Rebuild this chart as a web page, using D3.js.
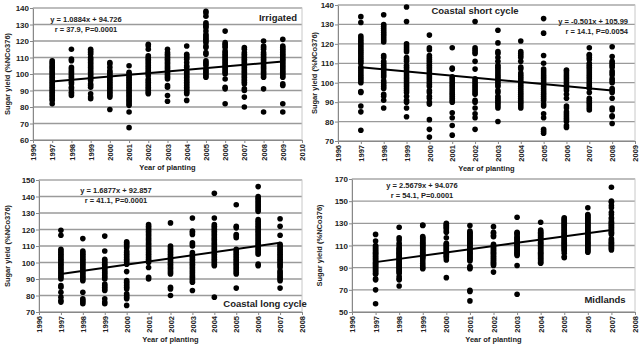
<!DOCTYPE html>
<html>
<head>
<meta charset="utf-8">
<script src="https://cdn.jsdelivr.net/npm/d3@7"></script>
<style>
  body { margin: 0; background: #fff; }
  text { font-family: "Liberation Sans", Arial, sans-serif; font-weight: bold; fill: #222; }
</style>
</head>
<body>
<div id="chart"></div>
<script>
// ---- data ----
var irrigatedYears = [1997, 1998, 1999, 2000, 2001, 2002, 2003, 2004, 2005, 2006, 2007, 2008, 2009];
var irrigatedYield = [
  [82, 84, 85, 86, 87, 88, 89, 90, 91, 92, 93, 94, 95, 96, 97, 98, 99, 100, 101, 102, 103, 104, 105, 106, 107, 108],
  [115, 109, 108, 104, 103, 102, 101, 100, 99, 98, 97, 96, 95, 94, 92, 91, 89, 88, 87],
  [115, 114, 113, 112, 110, 109, 108, 107, 106, 105, 104, 103, 102, 101, 100, 99, 98, 97, 96, 94, 93, 92, 88, 86, 85],
  [107, 106, 104, 102, 101, 100, 99, 98, 97, 96, 95, 94, 93, 92, 91, 90, 89, 88, 87, 86, 78.5],
  [105, 101, 100, 99, 98, 97, 96, 95, 94, 93, 92, 91, 90, 89, 88, 87, 86, 85, 84, 83, 82, 81, 77, 67.5],
  [118, 117, 115, 111, 110, 109, 108, 107, 106, 105, 104, 103, 102, 101, 100, 99, 97, 96, 95, 94, 93, 92, 91, 90, 89, 88],
  [115, 113, 112, 111, 110, 109, 108, 107, 106, 105, 104, 103, 102, 101, 100, 99, 98, 97, 93, 92, 87, 83.5],
  [117, 112, 111, 110, 109, 107, 105, 104, 102, 101, 100, 99, 98, 97, 96, 95, 94, 93, 92, 91, 90, 89, 88, 84],
  [138, 137, 135, 131, 130, 129, 128, 126, 124, 123, 122, 121, 120, 119, 117, 116, 113, 112, 108, 107, 106, 105, 103, 102, 101, 100, 99, 98],
  [126, 119, 118, 117, 116, 114, 113, 112, 111, 110, 109, 108, 107, 106, 105, 104, 103, 102, 101, 100, 97, 92, 91, 82],
  [116, 115, 113, 112, 111, 110, 109, 108, 107, 106, 105, 104, 103, 102, 101, 100, 99, 98, 97, 96, 95, 94, 91, 90, 86, 80],
  [120, 117, 116, 115, 113, 112, 111, 110, 109, 108, 107, 106, 105, 104, 103, 102, 101, 100, 99, 98, 91, 77],
  [121, 117, 116, 115, 114, 113, 112, 111, 110, 109, 108, 107, 106, 105, 104, 103, 102, 101, 100, 99, 98, 94, 93, 82, 77]
];
var irrigatedTrend = [95.5, 107.6];

var shortYears = [1997, 1998, 1999, 2000, 2001, 2002, 2003, 2004, 2005, 2006, 2007, 2008];
var shortYield = [
  [134, 131, 124, 123, 122, 121, 120, 119, 118, 117, 116, 115, 114, 113, 112, 111, 110, 108, 107, 106, 105, 104, 103, 102, 101, 100, 95.5, 95, 88, 85, 75.5],
  [135, 130, 129, 128, 127, 126, 125, 124, 123, 122, 121, 114, 113, 111, 110, 109, 108, 107, 106, 105, 104, 103, 101, 100, 99, 98, 97, 94, 93, 91, 87],
  [139, 131.5, 120, 119, 118, 117, 116, 113, 112, 111, 109, 108, 107, 106, 105, 104, 103, 102, 101, 100, 99, 98, 97, 96, 95, 93, 91, 90, 87, 82.5],
  [124.5, 118, 117, 114, 113, 112, 111, 110, 109, 108, 107, 106, 105, 104, 103, 102, 101, 100, 99, 98, 96, 95, 93, 92, 90, 89, 81, 76, 72],
  [118, 107.5, 107, 103, 102, 101, 100, 99, 98, 97, 96, 95, 94, 93, 92, 91, 90, 84.5, 82, 78, 73],
  [131.5, 118, 117, 116, 115, 111, 107, 102, 101, 100, 99, 98, 97, 96, 95, 94, 91, 90, 87, 84, 82, 76],
  [127, 120.5, 116, 115, 113, 111, 109, 108, 107, 106, 105, 104, 103, 102, 101, 100, 99, 98, 96, 95, 93, 92, 91, 90, 89, 88, 87, 80],
  [121.5, 116, 115, 114, 113, 111, 108, 107, 105, 104, 103, 102, 101, 100, 99, 98, 97, 96, 95, 94, 93, 92, 91, 90, 89, 88, 87],
  [133, 125.5, 114, 110, 107, 106, 105, 104, 103, 102, 101, 100, 99, 98, 97, 96, 95, 94, 93, 92, 91, 89, 88, 84, 82, 76, 75, 74],
  [106.5, 106, 105, 104, 103, 102, 101, 100, 99, 98, 97, 96, 94, 92, 88, 87, 85, 84, 83, 82, 81, 80, 78, 77],
  [118, 114.5, 114, 113, 112, 110, 109, 108, 107, 106, 105, 104, 103, 102, 101, 100, 99, 98, 97, 95, 92, 91, 90, 89, 88, 87, 86],
  [118.5, 113.5, 111, 110, 109, 108, 106, 105, 104, 102, 101, 100, 97, 96, 95, 92, 87, 86, 83, 82.5, 79]
];
var shortTrend = [108, 96];

var longYears = [1997, 1998, 1999, 2000, 2001, 2002, 2003, 2004, 2005, 2006, 2007];
var longYield = [
  [119.5, 116.5, 108, 107, 106, 105, 104, 103, 102, 101, 100, 99, 98, 97, 96, 95, 94, 93, 92, 91, 90, 86, 85, 82, 79, 77, 76],
  [114.5, 107, 106, 105, 104, 103, 102, 101, 100, 99, 98, 97, 96, 95, 94, 93, 92, 91, 90, 89, 82, 78, 77, 76, 75],
  [116, 107, 102, 101, 100, 99, 98, 97, 96, 95, 94, 93, 92, 91, 90, 87, 86, 85, 84, 83, 78, 76, 75],
  [112.5, 112, 111, 110, 109, 107, 106, 105, 104, 103, 102, 101, 100, 99, 94.5, 89, 88, 87, 86, 85, 84, 81, 80, 79, 78, 74],
  [123, 122, 121, 120, 119, 118, 117, 116, 115, 114, 113, 112, 111, 110, 109, 108, 107, 106, 105, 104, 103, 102, 101, 100, 97, 91, 90],
  [124, 110, 109, 108, 107, 106, 105, 104, 103, 102, 101, 100, 99, 98, 97, 96, 95, 94, 93, 85, 84, 80],
  [127, 119, 118, 117, 112, 111, 110, 106, 105, 104, 103, 102, 101, 100, 99, 98, 97, 96, 95, 94, 93, 92, 91, 90, 89, 88, 83],
  [142, 127, 123, 122, 121, 120, 119, 118, 117, 116, 115, 114, 113, 112, 111, 110, 109, 108, 107, 106, 105, 104, 103, 102, 101, 100, 99, 98, 79],
  [135, 122, 121, 117, 116, 115, 108, 107, 106, 105, 104, 103, 102, 101, 100, 99, 98, 97, 96, 95, 94, 93, 84.5],
  [146, 140, 139, 138, 137, 136, 135, 134, 133, 132, 131, 126, 125, 124, 123, 122, 121, 120, 119, 118, 117, 116, 115, 114, 113, 112, 111, 110, 109, 108, 107, 106, 105, 99, 98],
  [126.5, 122, 116.5, 111, 110, 109, 108, 107, 106, 105, 104, 103, 102, 101, 100, 99, 98, 97, 95, 94, 93, 92, 91, 90, 89, 84.5]
];
var longTrend = [93, 112];

var midYears = [1997, 1998, 1999, 2000, 2001, 2002, 2003, 2004, 2005, 2006, 2007];
var midYield = [
  [120, 114, 110, 109, 108, 107, 106, 105, 104, 103, 102, 101, 100, 99, 98, 97, 96, 95, 94, 93, 92, 91, 90, 89, 88, 87, 86, 85, 84, 80, 79, 70, 57.5],
  [126.5, 117, 115, 112, 110, 108, 107, 106, 105, 104, 103, 102, 101, 100, 99, 98, 97, 96, 95, 94, 93, 92, 91, 90, 89, 88, 87, 86, 85, 82, 80, 79, 73.5],
  [128.5, 128, 118, 117, 116, 115, 114, 113, 112, 111, 110, 109, 108, 107, 106, 105, 104, 103, 102, 101, 100, 99, 98, 96, 94, 92, 90, 89],
  [130, 129, 128, 127, 126, 125, 123, 122, 117, 112, 111, 110, 109, 108, 107, 106, 105, 104, 103, 102, 101, 100, 99, 97, 81],
  [128, 123, 122, 121, 120, 119, 118, 117, 116, 115, 114, 113, 112, 111, 110, 109, 108, 107, 106, 105, 104, 103, 102, 101, 100, 99, 98, 97, 96, 91, 90, 89, 69.5, 68.5, 60],
  [127, 122, 121, 119, 118, 111, 110, 109, 108, 107, 106, 105, 104, 103, 102, 101, 100, 99, 98, 97, 96, 95, 94, 93, 92, 86],
  [135.5, 122, 121, 120, 118, 117, 116, 115, 114, 113, 112, 111, 110, 109, 108, 107, 106, 105, 104, 103, 102, 101, 92, 66],
  [131, 124, 123, 122, 121, 120, 119, 118, 117, 116, 115, 114, 113, 112, 111, 110, 109, 108, 107, 106, 105, 104, 103, 102, 101, 100, 99, 98, 97, 96, 95, 94],
  [135, 134, 133, 132, 131, 130, 129, 128, 127, 126, 125, 124, 123, 122, 121, 120, 119, 118, 117, 116, 115, 114, 113, 112, 111, 110, 109, 108, 107, 106, 105, 103, 100, 99],
  [144, 138, 137, 136, 135, 134, 133, 132, 131, 130, 129, 128, 127, 126, 125, 124, 123, 122, 121, 120, 119, 118, 117, 116, 115, 114, 113, 112, 111, 110, 109, 108, 107, 106, 105, 104],
  [162.5, 150, 149, 146, 144, 140, 138, 135, 134, 132, 131, 130, 129, 128, 127, 126, 125, 124, 123, 122, 121, 120, 116, 115, 114, 113, 112, 111, 110, 109, 108, 107, 106]
];
var midTrend = [95, 124];

// ---- svg ----
var svg = d3.select("#chart")
  .append("svg")
  .attr("width", 640)
  .attr("height", 346);

// one panel of the figure
function drawPanel(p) {
  var x = d3.scaleLinear().domain(p.xDomain).range([p.left, p.right]);
  var y = d3.scaleLinear().domain(p.yDomain).range([p.bottom, p.top]);
  var g = svg.append("g");

  // gridlines
  g.selectAll(".grid")
    .data(p.yTicks)
    .enter()
    .append("line")
    .attr("x1", p.left)
    .attr("x2", p.right)
    .attr("y1", d => y(d))
    .attr("y2", d => y(d))
    .attr("stroke", "#9a9a9a")
    .attr("stroke-width", 1.3);

  // plot border
  g.append("rect")
    .attr("x", p.left)
    .attr("y", p.top)
    .attr("width", p.right - p.left)
    .attr("height", p.bottom - p.top)
    .attr("fill", "none")
    .attr("stroke", "#c8c8c8")
    .attr("stroke-width", 1);

  // x axis
  var xTicks = d3.range(p.xDomain[0], p.xDomain[1] + 1);
  var xAxis = g.append("g")
    .attr("transform", `translate(0, ${p.bottom})`)
    .call(d3.axisBottom(x).tickValues(xTicks).tickFormat(d3.format("d")).tickSize(3).tickSizeOuter(0));
  xAxis.select(".domain").attr("stroke", "#888");
  xAxis.selectAll(".tick line").attr("stroke", "#888");
  xAxis.selectAll("text")
    .attr("transform", "rotate(-90)")
    .attr("text-anchor", "end")
    .attr("x", -4)
    .attr("y", 0)
    .attr("dy", "0.35em")
    .style("font-size", "7.5px");

  // y axis
  var yAxis = g.append("g")
    .attr("transform", `translate(${p.left}, 0)`)
    .call(d3.axisLeft(y).tickValues(p.yTicks).tickSize(3).tickSizeOuter(0));
  yAxis.select(".domain").attr("stroke", "#888");
  yAxis.selectAll(".tick line").attr("stroke", "#888");
  yAxis.selectAll("text").attr("x", -4).style("font-size", "8px");

  // points
  var pts = [];
  p.years.forEach(function(yr, i) {
    p.values[i].forEach(function(v) { pts.push({ year: yr, value: v }); });
  });
  g.selectAll(".dot")
    .data(pts)
    .enter()
    .append("circle")
    .attr("cx", d => x(d.year))
    .attr("cy", d => y(d.value))
    .attr("r", 2.8)
    .attr("fill", "#000");

  // trend line
  g.append("line")
    .attr("x1", x(p.years[0]))
    .attr("x2", x(p.years[p.years.length - 1]))
    .attr("y1", y(p.trend[0]))
    .attr("y2", y(p.trend[1]))
    .attr("stroke", "#000")
    .attr("stroke-width", 2);

  // equation
  p.eq.forEach(function(t, i) {
    g.append("text")
      .attr("x", p.eqX)
      .attr("y", p.eqY + i * 10)
      .attr("text-anchor", p.eqAnchor)
      .style("font-size", "7.5px")
      .text(t);
  });

  // panel name
  g.append("text")
    .attr("x", p.nameX)
    .attr("y", p.nameY)
    .attr("text-anchor", "middle")
    .style("font-size", "9.5px")
    .text(p.name);

  // axis titles
  g.append("text")
    .attr("transform", `translate(${p.yTitleX}, ${(p.top + p.bottom) / 2}) rotate(-90)`)
    .attr("text-anchor", "middle")
    .style("font-size", "7.5px")
    .text("Sugar yield (%NCo376)");

  g.append("text")
    .attr("x", (p.left + p.right) / 2)
    .attr("y", p.bottom + 30)
    .attr("text-anchor", "middle")
    .style("font-size", "7.5px")
    .text("Year of planting");
}

drawPanel({
  years: irrigatedYears, values: irrigatedYield, trend: irrigatedTrend,
  xDomain: [1996, 2010], yDomain: [60, 140], yTicks: d3.range(60, 141, 10),
  left: 33, right: 302, top: 8, bottom: 140,
  eq: ["y = 1.0884x + 94.726", "r = 37.9, P=0.0001"], eqX: 86, eqY: 22, eqAnchor: "middle",
  name: "Irrigated", nameX: 278, nameY: 21, yTitleX: 10
});

drawPanel({
  years: shortYears, values: shortYield, trend: shortTrend,
  xDomain: [1996, 2009], yDomain: [70, 140], yTicks: d3.range(70, 141, 10),
  left: 338, right: 635, top: 5, bottom: 141,
  eq: ["y = -0.501x + 105.99", "r = 14.1, P=0.0054"], eqX: 628, eqY: 24, eqAnchor: "end",
  name: "Coastal short cycle", nameX: 475, nameY: 14, yTitleX: 317
});

drawPanel({
  years: longYears, values: longYield, trend: longTrend,
  xDomain: [1996, 2008], yDomain: [70, 150], yTicks: d3.range(70, 151, 10),
  left: 39, right: 302, top: 180, bottom: 312,
  eq: ["y = 1.6877x + 92.857", "r = 41.1, P=0.0001"], eqX: 116, eqY: 193, eqAnchor: "middle",
  name: "Coastal long cycle", nameX: 265, nameY: 307, yTitleX: 10
});

drawPanel({
  years: midYears, values: midYield, trend: midTrend,
  xDomain: [1996, 2008], yDomain: [50, 170], yTicks: d3.range(50, 171, 20),
  left: 352, right: 635, top: 179, bottom: 312,
  eq: ["y = 2.5679x + 94.076", "r = 54.1, P=0.0001"], eqX: 422, eqY: 188, eqAnchor: "middle",
  name: "Midlands", nameX: 605, nameY: 303, yTitleX: 322
});
</script>
</body>
</html>
